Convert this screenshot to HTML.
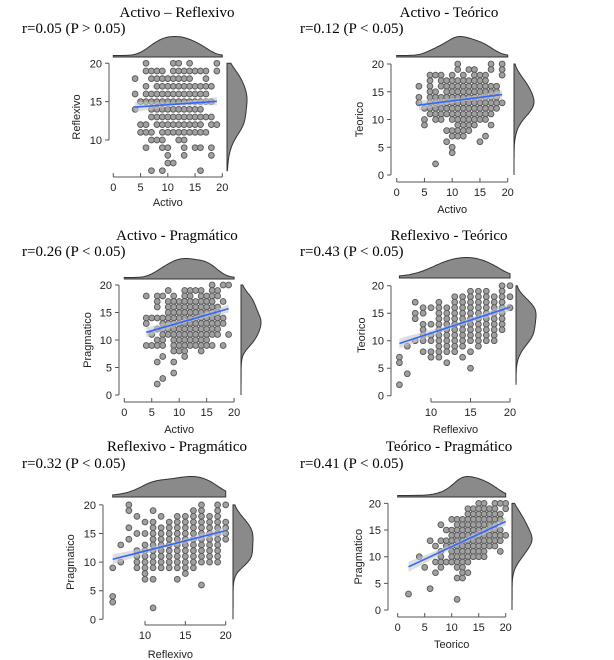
<!DOCTYPE html>
<html><head><meta charset="utf-8"><style>
body{margin:0;background:#fff;}
svg{display:block;}
.t{font-family:"Liberation Serif",serif;font-size:15px;fill:#000;}
.a{font-family:"Liberation Sans",sans-serif;font-size:11px;fill:#222;}
</style></head><body>
<svg id="c" width="614" height="660" viewBox="0 0 614 660" xmlns="http://www.w3.org/2000/svg"></svg>
<script>
// ---- data: rows of [y, [x values]] ----
const p1Rows=[[20,[6,11,12,14,19]],[19,[6,7,8,9,11,12,13,14,15,16,17,19]],[18,[4,7,8,9,10,11,12,13,14,17]],[17,[6,8,9,10,11,12,13,14,15,16,17,18]],[16,[4,6,7,8,9,10,11,12,13,14,15,16,17]],[15,[5,6,7,8,9,10,11,12,13,14,15,16,17,18]],[14,[4,7,8,9,10,11,12,13,14,15,16]],[13,[7,8,9,10,11,12,13,14,15,16,17,18]],[12,[5,6,8,9,10,11,12,13,14,15,16,18,19]],[11,[5,6,7,9,10,11,12,13,14,15,16,17]],[10,[7,8,9,12,13]],[9,[6,9,10,13,15,16,18]],[8,[10,13,18]],[7,[10,11]],[6,[7,9,16]]];
const p2Rows=[[20,[11,17,19]],[19,[11,13,14,17,19]],[18,[6,7,8,10,12,14,15,16,19]],[17,[6,8,9,10,11,12,13,14,15,16]],[16,[4,6,8,9,10,11,12,13,14,15,16,17,18]],[15,[6,7,9,10,11,12,13,14,15,16,17,18]],[14,[4,6,7,8,9,10,11,12,13,14,15,16,17,18]],[13,[4,6,7,8,9,10,11,12,13,14,15,16,17,18,19]],[12,[5,6,7,8,9,10,11,12,13,14,15,16,17,18]],[11,[6,7,8,9,10,11,12,13,14,15,16,17]],[10,[5,7,8,10,11,12,13,14,15,16]],[9,[5,11,12,13,14,17]],[8,[9,10,11,12,13]],[7,[10,11,12,16]],[6,[9,15]],[5,[10]],[4,[10]],[2,[7]]];
const p3Rows=[[20,[16,18,19]],[19,[8,11,12,13,14,16,17]],[18,[4,6,7,9,11,12,14,15,16,17]],[17,[6,8,9,10,11,12,13,14,15,16,18]],[16,[6,8,9,10,11,12,13,14,15,16,17]],[15,[8,9,10,11,12,13,14,15,16,17]],[14,[4,5,6,7,8,9,10,11,12,13,14,15,16,17,18]],[13,[4,7,8,9,10,11,12,13,14,15,16,17,18]],[12,[6,7,8,9,10,11,12,13,14,15,16,17]],[11,[5,7,8,9,10,11,12,13,14,15,16,17,19]],[10,[6,7,9,10,11,12,13,14,15]],[9,[4,5,6,7,9,10,11,12,13,14,15,16,18]],[8,[9,10,11,14]],[7,[7,11]],[6,[6,9]],[4,[9]],[3,[7]],[2,[6]]];
const p4Rows=[[20,[19,20]],[19,[15,16,17,19]],[18,[13,14,15,16,17,18,19,20]],[17,[8,11,13,14,15,16,17,18,19]],[16,[9,10,11,12,13,14,15,16,17,18,19,20]],[15,[8,9,11,12,13,14,15,16,17,18,19]],[14,[8,11,12,13,14,15,16,17,18,19]],[13,[9,10,11,12,13,14,15,16,17,18,19]],[12,[9,11,12,13,14,15,16,17,18,19]],[11,[9,10,11,12,13,14,15,16,17,18]],[10,[8,9,10,11,12,13,14,15,16,17,18]],[9,[7,11,12,13,14,16]],[8,[9,10,11,12,13,15]],[7,[6,10,11,14]],[6,[6,12]],[5,[15]],[4,[7]],[2,[6]]];
const p5Rows=[[20,[8,17,19,20]],[19,[8,11,16,17,19]],[18,[9,12,14,15,16,17,18,19]],[17,[10,11,13,14,15,16,17,18,19,20]],[16,[8,11,12,13,14,15,16,17,18,19,20]],[15,[9,10,11,12,13,14,15,16,17,18,19,20]],[14,[8,11,12,13,14,15,16,17,18,19,20]],[13,[7,10,11,12,13,14,15,16,17,18,19]],[12,[9,10,11,12,13,14,15,16,17,18,19]],[11,[9,10,11,12,13,14,15,16,17,18,19]],[10,[7,9,10,11,12,13,14,15,16,17,18,19]],[9,[6,9,10,11,12,13,14,15,16]],[8,[10,15]],[7,[10,11,14]],[6,[17]],[4,[6]],[3,[6]],[2,[11]]];
const p6Rows=[[20,[15,16,18,19,20]],[19,[13,14,15,16,17,18,20]],[18,[13,14,15,16,17,18,19]],[17,[10,11,12,13,14,15,16,17,18,19]],[16,[8,11,12,13,14,15,16,17,18]],[15,[9,10,11,12,13,14,15,16,17,18,19]],[14,[10,11,12,13,14,15,16,17,18,19,20]],[13,[6,8,9,10,11,12,13,14,15,16,17,18,19]],[12,[7,9,10,11,12,13,14,15,16,17,18]],[11,[8,10,11,12,13,14,15,16,19]],[10,[4,8,10,11,12,13,14,15,16]],[9,[7,8,9,10,11,12,13]],[8,[5,8,11,12]],[7,[7,12,13]],[6,[11,12]],[4,[6]],[3,[2]],[2,[11]]];
// regression endpoints [x1,y1,x2,y2]
const p1Fit=[4,14.3,19,15.05];
const p2Fit=[4,12.6,19,14.5];
const p3Fit=[4,11.4,19,15.7];
const p4Fit=[6,9.5,20,16.1];
const p5Fit=[6,10.5,20,15.5];
const p6Fit=[2,8.1,20,16.6];
const titles=["Activo – Reflexivo","Activo - Teórico","Activo - Pragmático","Reflexivo - Teórico","Reflexivo - Pragmático","Teórico - Pragmático"];
const rLabels=["r=0.05 (P > 0.05)","r=0.12 (P < 0.05)","r=0.26 (P < 0.05)","r=0.43 (P < 0.05)","r=0.32 (P < 0.05)","r=0.41 (P < 0.05)"];
const xNames=["Activo","Activo","Activo","Reflexivo","Reflexivo","Teorico"];
const yNames=["Reflexivo","Teorico","Pragmatico","Teorico","Pragmatico","Pragmatico"];
const xTickVals=[[0,5,10,15,20],[0,5,10,15,20],[0,5,10,15,20],[10,15,20],[10,15,20],[0,5,10,15,20]];
const yTickVals=[[10,15,20],[0,5,10,15,20],[0,5,10,15,20],[0,5,10,15,20],[0,5,10,15,20],[0,5,10,15,20]];

// layout (geometry)
const L=[
 {x0:113.3,sx:5.45,y0:216.7,sy:7.67,yAx:109,xAx:177,xr:[0,20],yr:[6,20],tx:177,ty:17,rx:22,ry:33,ylx:80,xly:206,topBase:57,rdX:227},
 {x0:396.7,sx:5.55,y0:175,sy:5.55,yAx:391,xAx:182,xr:[0,20],yr:[0,20],tx:449,ty:17,rx:300,ry:33,ylx:363,xly:213,topBase:57,rdX:514},
 {x0:124.3,sx:5.49,y0:395,sy:5.5,yAx:119,xAx:402,xr:[0,20],yr:[0,20],tx:177,ty:240,rx:22,ry:256,ylx:91,xly:433,topBase:279,rdX:241},
 {x0:352,sx:7.9,y0:395.7,sy:5.5,yAx:391,xAx:402,xr:[6,20],yr:[2,20],tx:449,ty:240,rx:300,ry:256,ylx:365,xly:433,topBase:278,rdX:516},
 {x0:64.3,sx:8.07,y0:619.3,sy:5.72,yAx:103,xAx:625,xr:[6,20],yr:[0,20],tx:177,ty:451,rx:22,ry:468,ylx:74,xly:658,topBase:497,rdX:233},
 {x0:397.7,sx:5.4,y0:610,sy:5.33,yAx:388,xAx:617,xr:[0,20],yr:[0,20],tx:449,ty:451,rx:300,ry:468,ylx:362,xly:648,topBase:497,rdX:512}
];
const allRows=[p1Rows,p2Rows,p3Rows,p4Rows,p5Rows,p6Rows];
const allFits=[p1Fit,p2Fit,p3Fit,p4Fit,p5Fit,p6Fit];
const NS="http://www.w3.org/2000/svg";
const svg=document.getElementById('c');
function mk(tag,at,parent){const e=document.createElementNS(NS,tag);for(const k in at)e.setAttribute(k,at[k]);(parent||svg).appendChild(e);return e;}
function kde(vals,lo,hi,n,bw){const out=[];for(let i=0;i<=n;i++){const v=lo+(hi-lo)*i/n;let s=0;for(const u of vals)s+=Math.exp(-0.5*((v-u)/bw)**2);out.push([v,s*s]);}return out;}

L.forEach((g,i)=>{
  const G=mk('g',{});
  
  
  const X=v=>g.x0+v*g.sx, Y=v=>g.y0-v*g.sy;
  const t=mk('text',{x:g.tx,y:g.ty,'text-anchor':'middle',class:'t'},G);t.textContent=titles[i];
  
  const r=mk('text',{x:g.rx,y:g.ry,class:'t'},G);r.textContent=rLabels[i];
  
  const xs=[],ys=[];
  allRows[i].forEach(([y,list])=>list.forEach(x=>{xs.push(x);ys.push(y);}));
  // top density
  const td=kde(xs,g.xr[0],g.xr[1],80,1.6);const tm=Math.max(...td.map(d=>d[1]));
  let d='M'+X(g.xr[0])+','+g.topBase;td.forEach(([v,s])=>d+=' L'+X(v).toFixed(1)+','+(g.topBase-1.5-s/tm*19).toFixed(1));d+=' L'+X(g.xr[1])+','+g.topBase+'Z';
  const tp=mk('path',{d:d,fill:'#8a8a8a',stroke:'#333','stroke-width':1},G);
  
  // right density
  const rd=kde(ys,g.yr[0],20,80,1.4);const rm=Math.max(...rd.map(d=>d[1]));
  d='M'+g.rdX+','+Y(g.yr[0]);rd.forEach(([v,s])=>d+=' L'+(g.rdX+s/rm*20).toFixed(1)+','+Y(v).toFixed(1));d+=' L'+g.rdX+','+Y(20)+'Z';
  const rp=mk('path',{d:d,fill:'#8a8a8a',stroke:'#333','stroke-width':1},G);
  
  // axes
  const xt=xTickVals[i],yt=yTickVals[i];
  const xa=mk('path',{d:`M${X(xt[0])},${g.xAx} H${X(xt[xt.length-1])}`+xt.map(v=>` M${X(v)},${g.xAx} v-4`).join(''),stroke:'#555',fill:'none','stroke-width':1},G);
  
  xt.forEach(v=>{const e=mk('text',{x:X(v),y:g.xAx+14,'text-anchor':'middle',class:'a'},G);e.textContent=v;
    });
  const ya=mk('path',{d:`M${g.yAx},${Y(yt[0])} V${Y(yt[yt.length-1])}`+yt.map(v=>` M${g.yAx},${Y(v)} h-4`).join(''),stroke:'#555',fill:'none','stroke-width':1},G);
  
  yt.forEach(v=>{const e=mk('text',{x:g.yAx-7,y:Y(v)+4,'text-anchor':'end',class:'a'},G);e.textContent=v;
    });
  const xl=mk('text',{x:(X(xt[0])+X(xt[xt.length-1]))/2+(i==3||i==4?-15:0),y:g.xly,'text-anchor':'middle',class:'a'},G);xl.textContent=xNames[i];
  
  const ymid=(Y(20)+Y(g.yr[0]))/2;
  const yl=mk('text',{x:g.ylx,y:ymid,'text-anchor':'middle',class:'a',transform:`rotate(-90 ${g.ylx} ${ymid})`},G);yl.textContent=yNames[i];
  
  // points
  xs.forEach((x,k)=>{const c=mk('circle',{cx:X(x),cy:Y(ys[k]),r:2.9,fill:'#a0a0a0',stroke:'#555','stroke-width':0.9},G);
    });
  // fit ribbon + line
  const f=allFits[i];
  const rb=mk('path',{d:`M${X(f[0])},${Y(f[1])-5} L${X((f[0]+f[2])/2)},${Y((f[1]+f[3])/2)-1.8} L${X(f[2])},${Y(f[3])-4} L${X(f[2])},${Y(f[3])+4} L${X((f[0]+f[2])/2)},${Y((f[1]+f[3])/2)+1.8} L${X(f[0])},${Y(f[1])+5}Z`,fill:'#c8c8c8',opacity:0.6},G);
  
  const ln=mk('line',{x1:X(f[0]),y1:Y(f[1]),x2:X(f[2]),y2:Y(f[3]),stroke:'#3366ff','stroke-width':1.6},G);
  
});
</script>
</body></html>
